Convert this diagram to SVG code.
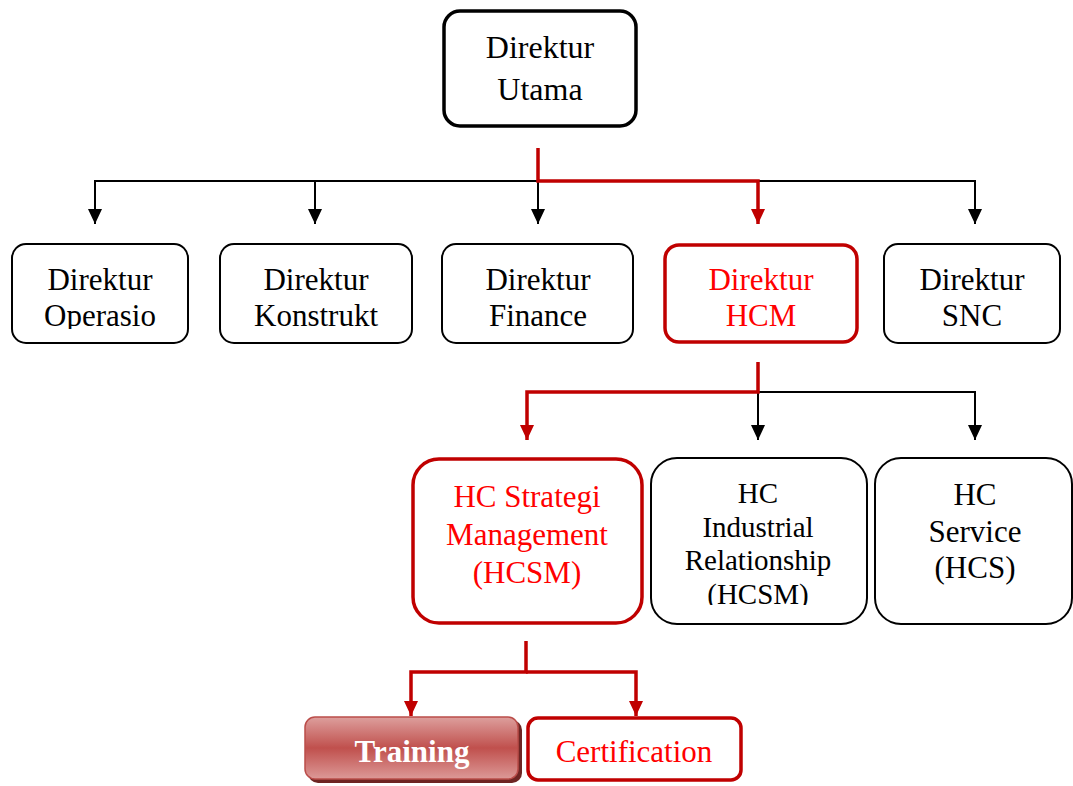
<svg xmlns="http://www.w3.org/2000/svg" width="1073" height="786" viewBox="0 0 1073 786" font-family="'Liberation Serif', 'DejaVu Serif', serif">
<style>
text{font-family:'Liberation Serif','DejaVu Serif',serif;text-anchor:middle;}
.box{fill:#fff;stroke:#000;stroke-width:2;}
.rbox{fill:#fff;stroke:#c00000;stroke-width:3.5;}
.t{font-size:31px;fill:#000;}
.rt{font-size:31px;fill:#ff0000;}
.bl{fill:none;stroke:#000;stroke-width:2;}
.rl{fill:none;stroke:#c00000;stroke-width:3.5;}
</style>
<defs>
<marker id="ab" markerUnits="userSpaceOnUse" markerWidth="16" markerHeight="16" viewBox="0 0 16 16" refX="8" refY="15" orient="0">
<path d="M1,0 L15,0 L8,15 Z" fill="#000"/>
</marker>
<marker id="ar" markerUnits="userSpaceOnUse" markerWidth="16" markerHeight="16" viewBox="0 0 16 16" refX="8" refY="15" orient="0">
<path d="M1,0 L15,0 L8,15 Z" fill="#c00000"/>
</marker>
<linearGradient id="tg" x1="0" y1="0" x2="0" y2="1">
<stop offset="0" stop-color="#dd9f9d"/>
<stop offset="0.5" stop-color="#c0504d"/>
<stop offset="1" stop-color="#dc9997"/>
</linearGradient>
<clipPath id="c1"><rect x="12" y="244" width="176" height="85"/></clipPath>
<clipPath id="c2"><rect x="650" y="458" width="218" height="147"/></clipPath>
</defs>

<g id="connectors">
<path class="bl" d="M95,224 V181 H975 V224" marker-end="url(#ab)" marker-start="url(#ab)"/>
<path class="bl" d="M315,181 V224" marker-end="url(#ab)"/>
<path class="bl" d="M538,181 V224" marker-end="url(#ab)"/>
<path class="rl" d="M538,148 V181 H758 V224" marker-end="url(#ar)"/>
<path class="bl" d="M758,392 H975 V440" marker-end="url(#ab)"/>
<path class="bl" d="M758,392 V440" marker-end="url(#ab)"/>
<path class="rl" d="M758,362 V392 H527 V440" marker-end="url(#ar)"/>
<path class="rl" d="M526,641 V672 H411 V716" marker-end="url(#ar)"/>
<path class="rl" d="M526,672 H636 V716" marker-end="url(#ar)"/>
</g>

<g id="direktur-utama">
<rect x="444" y="11" width="192" height="115" rx="16" fill="#fff" stroke="#000" stroke-width="3.5"/>
<text class="t" x="540" y="58" style="font-size:32px">Direktur</text>
<text class="t" x="540" y="100" style="font-size:32px">Utama</text>
</g>

<g id="direktur-operasio">
<rect class="box" x="12" y="244" width="176" height="99" rx="14"/>
<g clip-path="url(#c1)">
<text class="t" x="100" y="290">Direktur</text>
<text class="t" x="100" y="326">Operasio</text>
</g>
</g>

<g id="direktur-konstrukt">
<rect class="box" x="220" y="244" width="192" height="99" rx="14"/>
<text class="t" x="316" y="290">Direktur</text>
<text class="t" x="316" y="326">Konstrukt</text>
</g>

<g id="direktur-finance">
<rect class="box" x="442" y="244" width="191" height="99" rx="14"/>
<text class="t" x="538" y="290">Direktur</text>
<text class="t" x="538" y="326">Finance</text>
</g>

<g id="direktur-hcm">
<rect class="rbox" x="665" y="245" width="192" height="97" rx="14"/>
<text class="rt" x="761" y="290">Direktur</text>
<text class="rt" x="761" y="326">HCM</text>
</g>

<g id="direktur-snc">
<rect class="box" x="884" y="244" width="176" height="99" rx="14"/>
<text class="t" x="972" y="290">Direktur</text>
<text class="t" x="972" y="326">SNC</text>
</g>

<g id="hcsm">
<rect class="rbox" x="413" y="459" width="229" height="164" rx="26"/>
<text class="rt" x="527" y="507">HC Strategi</text>
<text class="rt" x="527" y="545">Management</text>
<text class="rt" x="527" y="583">(HCSM)</text>
</g>

<g id="hc-industrial">
<rect class="box" x="651" y="458" width="216" height="166" rx="26"/>
<g clip-path="url(#c2)">
<text class="t" x="758" y="503" style="font-size:29px">HC</text>
<text class="t" x="758" y="537" style="font-size:29px">Industrial</text>
<text class="t" x="758" y="570" style="font-size:29px">Relationship</text>
<text class="t" x="758" y="604" style="font-size:29px">(HCSM)</text>
</g>
</g>

<g id="hc-service">
<rect class="box" x="875" y="458" width="197" height="166" rx="26"/>
<text class="t" x="975" y="505">HC</text>
<text class="t" x="975" y="542">Service</text>
<text class="t" x="975" y="578">(HCS)</text>
</g>

<g id="training">
<rect x="308" y="720" width="214" height="63" rx="10" fill="#6e2523"/>
<rect x="305" y="717" width="213" height="62" rx="10" fill="url(#tg)" stroke="#bb4d4a" stroke-width="1.5"/>
<text x="412" y="762" style="font-size:31px;font-weight:bold" fill="#fff">Training</text>
</g>

<g id="certification">
<rect class="rbox" x="528" y="718" width="213" height="62" rx="10"/>
<text class="rt" x="634" y="762">Certification</text>
</g>
</svg>
